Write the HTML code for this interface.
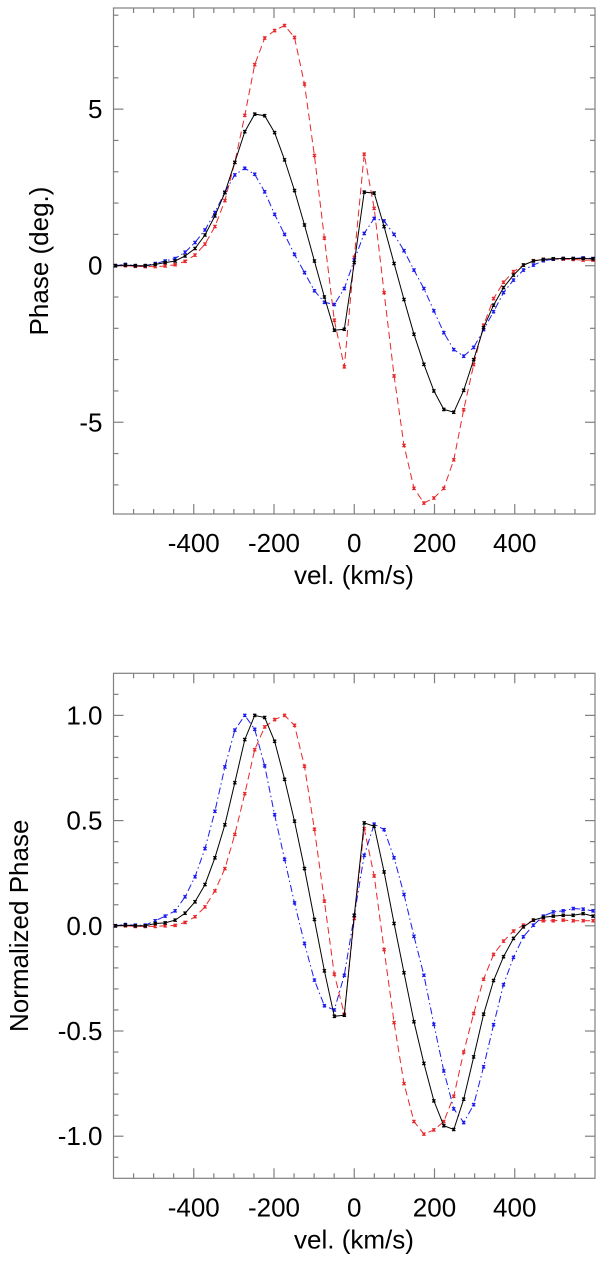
<!DOCTYPE html>
<html><head><meta charset="utf-8"><style>
html,body{margin:0;padding:0;background:#fff;}
svg{display:block;}
text{font-family:"Liberation Sans",sans-serif;fill:#000;}
</style></head><body>
<svg id="fig" width="600" height="1262" viewBox="0 0 600 1262" xmlns="http://www.w3.org/2000/svg"></svg>
<script>
const xTicks = [-400,-200,0,200,400];
const topYTicks = [5,0,-5];
const botYTicks = [1.0,0.5,0.0,-0.5,-1.0];
const botYLabels = ["1.0","0.5","0.0","-0.5","-1.0"];
const velStep = 24.8;
const phaseBlack = [0,0.02,0,0,0.04,0.1,0.15,0.31,0.55,0.98,1.59,2.33,3.3,4.28,4.84,4.79,4.25,3.38,2.4,1.3,0.15,-1.0,-2.06,-2.03,0.1,2.35,2.32,1.25,0.07,-1.08,-2.19,-3.15,-4.0,-4.59,-4.68,-3.98,-3.0,-1.98,-1.26,-0.7,-0.3,0.02,0.15,0.2,0.22,0.23,0.23,0.23,0.22];
const phaseRed = [0,0,-0.02,-0.03,-0.03,-0.01,0.03,0.14,0.34,0.69,1.25,2.08,3.3,4.8,6.42,7.27,7.51,7.67,7.29,5.8,3.52,0.88,-1.74,-3.23,0.27,3.56,1.83,-0.86,-3.52,-5.74,-7.11,-7.58,-7.42,-7.11,-6.2,-4.6,-3.16,-1.9,-1.05,-0.53,-0.19,0.02,0.16,0.2,0.21,0.21,0.2,0.18,0.18];
const phaseBlue = [0,0.04,0,0,0.07,0.15,0.23,0.43,0.74,1.14,1.7,2.35,2.9,3.11,2.92,2.36,1.64,1.0,0.36,-0.22,-0.8,-1.17,-1.24,-0.73,0.18,1.03,1.51,1.43,1.0,0.48,-0.14,-0.73,-1.44,-2.14,-2.68,-2.89,-2.61,-2.04,-1.47,-0.86,-0.46,-0.14,0.02,0.16,0.21,0.23,0.23,0.25,0.23];
const normBlack = [0,0.003,0,0,0.011,0.014,0.027,0.06,0.114,0.196,0.323,0.48,0.68,0.885,1.0,0.99,0.877,0.696,0.497,0.272,0.03,-0.214,-0.43,-0.425,0.05,0.489,0.473,0.256,0.011,-0.223,-0.456,-0.654,-0.832,-0.95,-0.968,-0.824,-0.623,-0.42,-0.26,-0.147,-0.06,-0.005,0.027,0.04,0.046,0.05,0.05,0.058,0.046];
const normRed = [0,0,-0.003,-0.003,-0.003,0,0.002,0.016,0.043,0.09,0.166,0.272,0.434,0.628,0.837,0.945,0.98,1.0,0.953,0.758,0.459,0.117,-0.23,-0.42,0.035,0.462,0.237,-0.113,-0.46,-0.75,-0.93,-0.99,-0.97,-0.93,-0.81,-0.6,-0.417,-0.254,-0.136,-0.073,-0.025,0.003,0.027,0.024,0.024,0.027,0.024,0.024,0.024];
const normBlue = [0,0.006,0.003,0.003,0.024,0.046,0.071,0.138,0.233,0.367,0.544,0.755,0.93,1.0,0.934,0.76,0.528,0.316,0.109,-0.084,-0.258,-0.38,-0.4,-0.235,0.05,0.335,0.483,0.457,0.323,0.149,-0.05,-0.235,-0.468,-0.69,-0.87,-0.935,-0.85,-0.67,-0.47,-0.28,-0.15,-0.052,0.003,0.046,0.066,0.071,0.082,0.079,0.071];

const NS="http://www.w3.org/2000/svg";
const svg=document.getElementById('fig');
function mk(tag,attrs,parent){const e=document.createElementNS(NS,tag);for(const k in attrs)e.setAttribute(k,attrs[k]);(parent||svg).appendChild(e);return e;}

function drawPanel(p){
  const g=mk('g',{});
  
  
  const X=v=>p.x0+(v-(-600))/1200*(p.x1-p.x0);
  const Y=v=>p.y0+(p.ymax-v)/(p.ymax-p.ymin)*(p.y1-p.y0);
  const ax=mk('g',{stroke:'#808080','stroke-width':1.2,fill:'none'},g);
  
  
  mk('rect',{x:p.x0,y:p.y0,width:p.x1-p.x0,height:p.y1-p.y0},ax);
  for(let v=-550;v<=550;v+=50){
    const L=(v%200===0)?10:5;const x=X(v);
    mk('line',{x1:x,y1:p.y1,x2:x,y2:p.y1-L},ax);
    mk('line',{x1:x,y1:p.y0,x2:x,y2:p.y0+L},ax);
  }
  for(let k=Math.ceil(p.ymin/p.minor);k*p.minor<=p.ymax;k++){
    const v=k*p.minor;const major=Math.abs(Math.round(v/p.major)*p.major-v)<1e-6;
    const L=major?10:5;const y=Y(v);
    if(y<=p.y0+0.5||y>=p.y1-0.5)continue;
    mk('line',{x1:p.x0,y1:y,x2:p.x0+L,y2:y},ax);
    mk('line',{x1:p.x1,y1:y,x2:p.x1-L,y2:y},ax);
  }
  xTicks.forEach(v=>{
    const t=mk('text',{x:X(v),y:p.y1+38,'font-size':26,'text-anchor':'middle'},g);
    
    
    t.textContent=String(v);
  });
  p.yTicks.forEach((v,i)=>{
    const t=mk('text',{x:p.x0-11,y:Y(v)+9,'font-size':26,'text-anchor':'end'},g);
    
    
    t.textContent=p.yLabels[i];
  });
  const xt=mk('text',{x:354,y:p.y1+70,'font-size':26,'text-anchor':'middle'},g);
  
  
  xt.textContent='vel. (km/s)';
  const cy=(p.y0+p.y1)/2;
  const yt=mk('text',{x:p.ytx,y:cy,'font-size':26,'text-anchor':'middle',transform:`rotate(-90 ${p.ytx} ${cy})`},g);
  
  
  yt.textContent=p.ytitle;
  p.series.forEach(s=>{
    const sg=mk('g',{},g);
    
    
    const pts=s.data.map((v,i)=>[X((i-24)*velStep),Y(v)]);
    mk('polyline',{points:pts.map(q=>q[0].toFixed(1)+','+q[1].toFixed(1)).join(' '),fill:'none',stroke:s.color,'stroke-width':1,'stroke-dasharray':s.dash},sg);
    pts.forEach(q=>{
      const m=mk('path',{d:`M${q[0]-1.6},${q[1]-1.6}L${q[0]+1.6},${q[1]+1.6}M${q[0]-1.6},${q[1]+1.6}L${q[0]+1.6},${q[1]-1.6}M${q[0]},${q[1]-1.8}L${q[0]},${q[1]+1.8}`,stroke:s.color,'stroke-width':1.2,fill:'none'},sg);
      
      
    });
  });
}
drawPanel({name:'phase-panel',x0:113.5,x1:595,y0:8,y1:514,ymin:-7.93,ymax:8.23,minor:1,major:5,
  yTicks:topYTicks,yLabels:topYTicks.map(String),ytitle:'Phase (deg.)',ytx:48,
  series:[{name:'series-red',data:phaseRed,color:'#e8282a',dash:'7,4'},
          {name:'series-blue',data:phaseBlue,color:'#1a1aee',dash:'7,3,1.5,3'},
          {name:'series-black',data:phaseBlack,color:'#000',dash:'none'}]});
drawPanel({name:'normalized-phase-panel',x0:113.5,x1:595,y0:673.3,y1:1178.3,ymin:-1.2,ymax:1.2,minor:0.1,major:0.5,
  yTicks:botYTicks,yLabels:botYLabels,ytitle:'Normalized Phase',ytx:28,
  series:[{name:'series-red',data:normRed,color:'#e8282a',dash:'7,4'},
          {name:'series-blue',data:normBlue,color:'#1a1aee',dash:'7,3,1.5,3'},
          {name:'series-black',data:normBlack,color:'#000',dash:'none'}]});
</script>
</body></html>
